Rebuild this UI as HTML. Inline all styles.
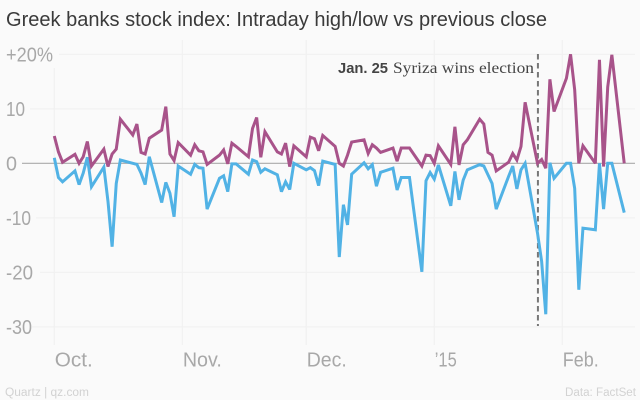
<!DOCTYPE html>
<html lang="en">
<head>
<meta charset="utf-8">
<title>Greek banks stock index</title>
<style>
html,body{margin:0;padding:0;background:#fafafa;}
svg{display:block;}
text{font-family:"Liberation Sans",sans-serif;}
</style>
</head>
<body>
<svg id="chart" xmlns="http://www.w3.org/2000/svg" width="640" height="400" viewBox="0 0 640 400">
  <rect width="640" height="400" fill="#fafafa"/>
  <g id="grid"></g>
  <g id="series"></g>
  <g id="labels"></g>
  <text x="6" y="26" font-size="20.5" fill="#3a3a3a" textLength="541" lengthAdjust="spacingAndGlyphs">Greek banks stock index: Intraday high/low vs previous close</text>
  <text x="338" y="73" font-size="15" fill="#444"><tspan font-weight="700" fill="#444" textLength="50" lengthAdjust="spacingAndGlyphs">Jan. 25</tspan><tspan x="393" style="font-family:'Liberation Serif',serif" font-size="15.5" textLength="141" lengthAdjust="spacingAndGlyphs">Syriza wins election</tspan></text>
  <text x="5" y="396" font-size="11.5" fill="#d2d2d2" textLength="84" lengthAdjust="spacingAndGlyphs">Quartz | qz.com</text>
  <text x="565" y="396" font-size="11.5" fill="#d2d2d2" textLength="71" lengthAdjust="spacingAndGlyphs">Data: FactSet</text>
</svg>
<script>
// Calendar days since Oct. 1, 2014 for each trading session
const tradingDays = [0,1,2,5,6,7,8,9,12,13,14,15,16,19,20,21,22,23,26,27,28,29,30,33,34,35,36,37,40,41,42,43,44,47,48,49,50,51,54,55,56,57,58,61,62,63,64,65,68,69,70,71,72,75,76,77,78,79,82,83,84,85,86,89,90,91,92,93,96,97,98,99,100,103,104,105,106,107,110,111,112,113,114,117,118,119,120,121,124,125,126,127,128,131,132,133,134,135,138];
const intradayHigh = [5.0,2.1,0.2,1.65,0,1.2,4.0,-0.5,2.6,-0.6,1.7,2.6,8.1,5.2,7.2,2.0,1.7,4.6,6.1,10.4,1.7,0.5,3.8,1.5,3.4,2.3,2.1,-0.2,1.5,2.45,-0.1,3.7,3.1,1.2,6.4,8.4,1.1,5.8,2.1,1.7,3.7,-0.6,3.2,1.2,4.8,4.5,2.3,5.1,3.1,0,-0.5,1.5,3.9,4.3,1.8,3.4,2.8,2.0,2.8,0.4,2.8,2.8,2.8,-0.5,1.5,1.4,0,3.2,-0.2,6.7,-0.3,3.4,4.3,8.1,7.2,2.0,1.5,-1.4,0.2,1.8,0.6,3.1,11.2,0,0.7,-0.9,15.4,9.5,15.6,20,13.5,0,3.2,0,19,-0.6,14,19.9,0];
const intradayLow = [1.0,-2.6,-3.4,-1.4,-3.9,-1.8,1.1,-4.3,-0.7,-7,-15.3,-3.7,0.6,0,-0.2,-1.8,-3.9,1.2,-7.2,-3.5,-5.5,-9.8,-0.5,-2.0,-0.2,-0.8,-0.9,-8.4,-2.75,-2.3,-5.2,-0.1,-0.1,-2.0,0.6,0.3,-1.65,-1.0,-2.1,-5.2,-3.4,-4.8,0,-1.2,-0.8,-1.35,-4.1,0.4,-0.2,-17.2,-7.6,-11.3,-2.0,0.1,-1.0,-0.25,-4.2,-1.65,-0.9,-4.9,-2.6,-2.6,-2.6,-19.9,-3.2,-1.7,-2.9,-0.3,-7.8,-1.5,-6.7,-3.1,-1.2,-0.25,-0.5,-2.1,-3.7,-8.4,-2.4,-0.5,-4.7,-1.2,0,-12.8,-18,-27.7,0.1,-2.75,0,0,-4.6,-23.2,-11.9,-12.2,0,-8.4,0,0,-9.05];
const yTickValues = [20,10,-10,-20,-30];
const yTickLabels = ['+20%','10','0','-10','-20','-30'];
const yLabelValues = [20,10,0,-10,-20,-30];
const xTickDays = [0,31,61,92,123];
const xTickLabels = ['Oct.','Nov.','Dec.','\u201915','Feb.'];
const eventDay = 117.1;

const NS = 'http://www.w3.org/2000/svg';
function xScale(day){ return 54.3 + day * 4.13; }
function yScale(v){ return 163.3 - v * 5.45; }
function mk(parent, tag, attrs){
  const el = document.createElementNS(NS, tag);
  for (const k in attrs) el.setAttribute(k, attrs[k]);
  parent.appendChild(el);
  return el;
}
const grid = document.getElementById('grid');
const series = document.getElementById('series');
const labels = document.getElementById('labels');

// Horizontal gridlines start just after each tick label
const yLabelEnd = {'20':59,'10':30,'-10':36,'-20':40,'-30':32};
yTickValues.forEach(function(v){
  const line = mk(grid, 'line', {x1: yLabelEnd[String(v)], x2: 635, y1: yScale(v), y2: yScale(v), stroke: '#f1f1f1', 'stroke-width': 1.2});
  
  
});
xTickDays.forEach(function(d, i){
  const line = mk(grid, 'line', {x1: xScale(d), x2: xScale(d), y1: i === 0 ? 68 : 40, y2: 345, stroke: '#f1f1f1', 'stroke-width': 1.2});
  
  
});
const zero = mk(grid, 'line', {x1: 22, x2: 635, y1: yScale(0), y2: yScale(0), stroke: '#aaaaaa', 'stroke-width': 1.2});



function pathFor(values){
  return values.map(function(v, i){
    return (i ? 'L' : 'M') + xScale(tradingDays[i]).toFixed(2) + ' ' + yScale(v).toFixed(2);
  }).join('');
}
const eventLine = mk(series, 'line', {x1: xScale(eventDay), x2: xScale(eventDay), y1: 54, y2: 326, stroke: '#777', 'stroke-width': 2, 'stroke-dasharray': '5.5 3.5'});


const lowLine = mk(series, 'path', {d: pathFor(intradayLow), fill: 'none', stroke: '#51b2e5', 'stroke-width': 3, 'stroke-linejoin': 'miter', 'stroke-miterlimit': 3});


const highLine = mk(series, 'path', {d: pathFor(intradayHigh), fill: 'none', stroke: '#a8538a', 'stroke-width': 3, 'stroke-linejoin': 'miter', 'stroke-miterlimit': 3});



const yLabelWidth = {'+20%':47,'10':19,'0':11,'-10':25,'-20':27,'-30':26};
yLabelValues.forEach(function(v, i){
  const t = mk(labels, 'text', {x: 6, y: yScale(v) + 7, 'font-size': 20, fill: '#a8a8a8', textLength: yLabelWidth[yTickLabels[i]], lengthAdjust: 'spacingAndGlyphs'});
  
  
  t.textContent = yTickLabels[i];
});
const xLabelWidth = [38,39,40,22,36];
xTickDays.forEach(function(d, i){
  const t = mk(labels, 'text', {x: xScale(d) + 0.5, y: 366.5, 'font-size': 20, fill: '#a8a8a8', textLength: xLabelWidth[i], lengthAdjust: 'spacingAndGlyphs'});
  
  
  t.textContent = xTickLabels[i];
});
</script>
</body>
</html>
